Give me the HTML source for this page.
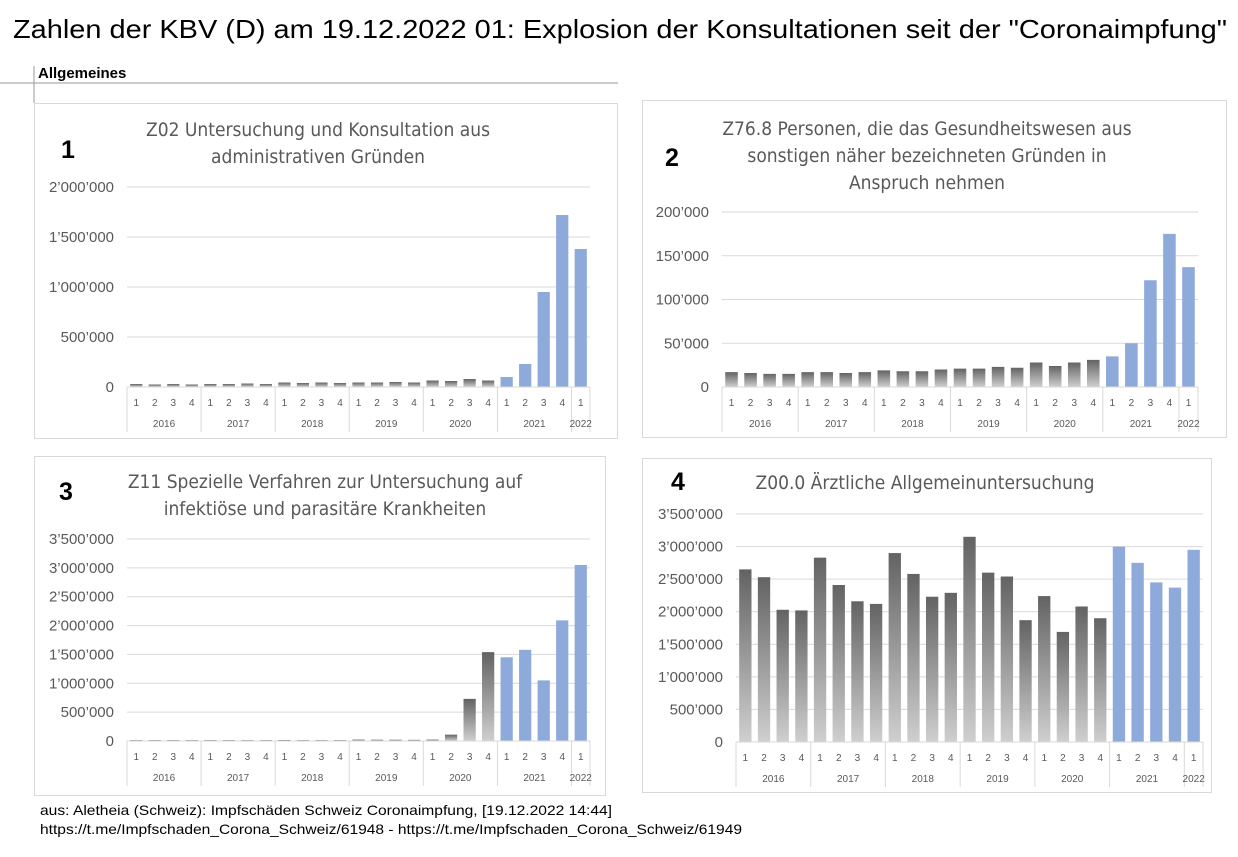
<!DOCTYPE html>
<html><head><meta charset="utf-8"><style>
body{margin:0;background:#fff;width:1238px;height:857px;overflow:hidden;font-family:"Liberation Sans",sans-serif}
svg{position:absolute;left:0;top:0}
</style></head><body>
<svg id="s" width="1238" height="857" xmlns="http://www.w3.org/2000/svg">
<defs>
<linearGradient id="g" x1="0" y1="0" x2="0" y2="1"><stop offset="0" stop-color="#636363"/><stop offset="1" stop-color="#cfcfcf"/></linearGradient>
</defs>
<text x="13" y="38" font-size="26" fill="#000" textLength="1214" lengthAdjust="spacingAndGlyphs">Zahlen der KBV (D) am 19.12.2022 01: Explosion der Konsultationen seit der "Coronaimpfung"</text>
<line x1="0" y1="83" x2="618" y2="83" stroke="#999"/>
<line x1="34" y1="66" x2="34" y2="103" stroke="#999"/>
<text x="38" y="78" font-size="15" font-weight="bold" fill="#000">Allgemeines</text>
<text x="40" y="815" font-size="14" fill="#000" textLength="572" lengthAdjust="spacingAndGlyphs">aus: Aletheia (Schweiz): Impfschäden Schweiz Coronaimpfung, [19.12.2022 14:44]</text>
<text x="40" y="834" font-size="14" fill="#000" textLength="702" lengthAdjust="spacingAndGlyphs">https://t.me/Impfschaden_Corona_Schweiz/61948 - https://t.me/Impfschaden_Corona_Schweiz/61949</text>
</svg>
<script>
const s=document.getElementById('s');let h='';
const Q=["1","2","3","4"],Y=["2016","2017","2018","2019","2020","2021","2022"];
const C=[
{box:[34,103,583,335],l:127,r:590,z:387,t:187,max:2000000,step:500000,ticks:["0","500’000","1’000’000","1’500’000","2’000’000"],num:"1",nx:68,ny:158,title:["Z02 Untersuchung und Konsultation aus","administrativen Gründen"],tx:318,ty:136,
v:[30,25,30,25,30,30,35,30,45,40,45,40,45,45,50,45,65,60,80,65,100,230,950,1720,1380].map(x=>x*1000)},
{box:[642,100,584,337],l:722,r:1198,z:387,t:212,max:200000,step:50000,ticks:["0","50’000","100’000","150’000","200’000"],num:"2",nx:672,ny:166,title:["Z76.8 Personen, die das Gesundheitswesen aus","sonstigen näher bezeichneten Gründen in","Anspruch nehmen"],tx:927,ty:135,
v:[17,16,15,15,17,17,16,17,19,18,18,20,21,21,23,22,28,24,28,31,35,50,122,175,137].map(x=>x*1000)},
{box:[34,456,571,339],l:127,r:590,z:741,t:539,max:3500000,step:500000,ticks:["0","500’000","1’000’000","1’500’000","2’000’000","2’500’000","3’000’000","3’500’000"],num:"3",nx:66,ny:500,title:["Z11 Spezielle Verfahren zur Untersuchung auf","infektiöse und parasitäre Krankheiten"],tx:325,ty:488,
v:[15,15,15,15,15,15,15,15,18,15,15,15,25,22,22,20,25,110,730,1540,1450,1580,1050,2090,3050].map(x=>x*1000)},
{box:[642,458,569,334],l:736,r:1203,z:742,t:514,max:3500000,step:500000,ticks:["0","500’000","1’000’000","1’500’000","2’000’000","2’500’000","3’000’000","3’500’000"],num:"4",nx:678,ny:490,title:["Z00.0 Ärztliche Allgemeinuntersuchung"],tx:925,ty:489,
v:[2650,2530,2030,2020,2830,2410,2160,2120,2900,2580,2230,2290,3150,2600,2540,1870,2240,1690,2080,1900,3000,2750,2450,2370,2950].map(x=>x*1000)}];
C.forEach(c=>{
 const [bx,by,bw,bh]=c.box;
 h+=`<rect x="${bx+.5}" y="${by+.5}" width="${bw}" height="${bh}" fill="#fff" stroke="#d9d9d9"/>`;
 h+=`<text x="${c.nx}" y="${c.ny}" font-size="25" font-weight="bold" fill="#000" text-anchor="middle">${c.num}</text>`;
 c.title.forEach((t,i)=>h+=`<text x="${c.tx}" y="${c.ty+i*27}" font-size="19" fill="#595959" text-anchor="middle" font-family="DejaVu Sans Condensed, DejaVu Sans, sans-serif" font-stretch="condensed">${t}</text>`);
 const sc=(c.z-c.t)/c.max;
 c.ticks.forEach((t,i)=>{const y=c.z-i*c.step*sc;
  if(i>0)h+=`<line x1="${c.l}" y1="${y}" x2="${c.r}" y2="${y}" stroke="#d9d9d9"/>`;
  h+=`<text x="${c.l-13}" y="${y+5}" font-size="15" fill="#595959" text-anchor="end">${t}</text>`;});
 const sw=(c.r-c.l)/25,bwid=sw*0.66;
 c.v.forEach((v,i)=>{const x=c.l+i*sw+(sw-bwid)/2,hh=v*sc;
  h+=`<rect x="${x}" y="${c.z-hh}" width="${bwid}" height="${hh}" fill="${i>=20?'#8eaadb':'url(#g)'}"/>`;
  h+=`<text x="${c.l+i*sw+sw/2}" y="${c.z+19}" font-size="10" fill="#595959" text-anchor="middle">${Q[i<24?i%4:0]}</text>`;});
 h+=`<line x1="${c.l}" y1="${c.z}" x2="${c.r}" y2="${c.z}" stroke="#d9d9d9"/>`;
 [0,4,8,12,16,20,24,25].forEach(k=>{const x=c.l+k*sw;h+=`<line x1="${x}" y1="${c.z}" x2="${x}" y2="${c.z+45}" stroke="#d9d9d9"/>`;});
 Y.forEach((y,k)=>{const x=k<6?c.l+(k*4+2)*sw:c.l+24.5*sw;h+=`<text x="${x}" y="${c.z+40}" font-size="10" fill="#595959" text-anchor="middle">${y}</text>`;});
});
s.insertAdjacentHTML('beforeend',h);
</script>
</body></html>
